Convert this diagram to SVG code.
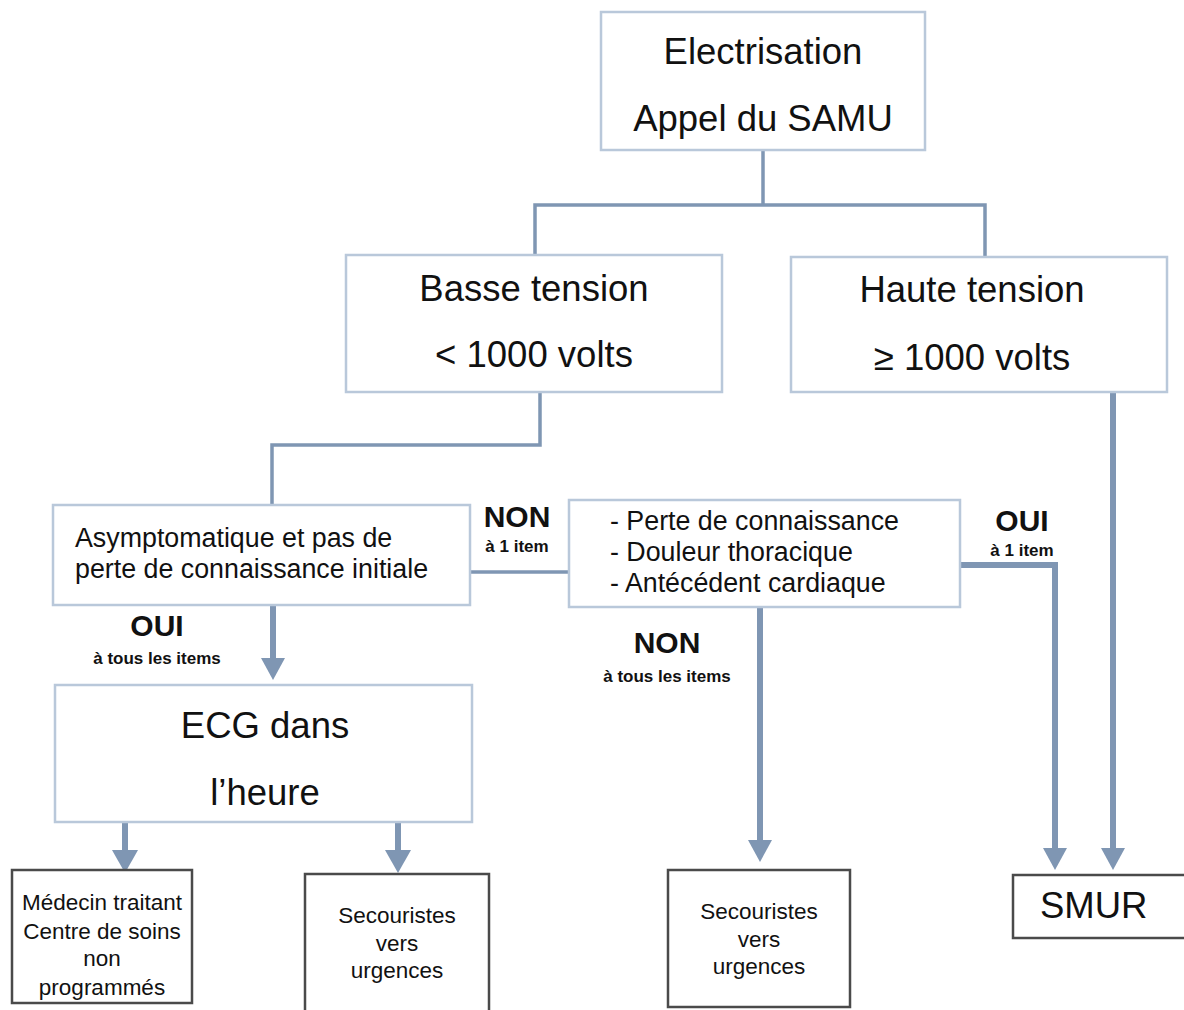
<svg xmlns="http://www.w3.org/2000/svg" width="1184" height="1010" viewBox="0 0 1184 1010">
<defs>
<style>
.lb{fill:#fff;stroke:#b9c8da;stroke-width:2.5}
.db{fill:#fff;stroke:#4a4a4a;stroke-width:2.5}
.ln{fill:none;stroke:#7f96b3;stroke-width:3.5}
.th{fill:none;stroke:#7f96b3;stroke-width:6}
.ah{fill:#7f96b3}
text{font-family:"Liberation Sans",Arial,sans-serif;fill:#111}
.big{font-size:36.5px}
.mid{font-size:26.8px}
.sm{font-size:22.5px}
.lab{font-size:30px;font-weight:bold}
.sub{font-size:17px;font-weight:bold}
.c{text-anchor:middle}
</style>
</defs>
<g id="connectors">
<polyline class="ln" points="763,150 763,205"/>
<polyline class="ln" points="535,255 535,205 985,205 985,257"/>
<polyline class="ln" points="540,392 540,445 272,445 272,505"/>
<line class="ln" x1="470" y1="572" x2="569" y2="572"/>
<polyline class="th" points="960,565 1055,565 1055,850"/>
<polygon class="ah" points="1043,848 1067,848 1055,870"/>
<line class="th" x1="1113" y1="392" x2="1113" y2="850"/>
<polygon class="ah" points="1101,848 1125,848 1113,870"/>
<line class="th" x1="760" y1="607" x2="760" y2="842"/>
<polygon class="ah" points="748,840 772,840 760,862"/>
<line class="th" x1="273" y1="605" x2="273" y2="660"/>
<polygon class="ah" points="261,658 285,658 273,680"/>
<line class="th" x1="125" y1="822" x2="125" y2="852"/>
<polygon class="ah" points="112,850 138,850 125,873"/>
<line class="th" x1="398" y1="822" x2="398" y2="852"/>
<polygon class="ah" points="385,850 411,850 398,873"/>
</g>
<g id="n-electrisation">
<rect class="lb" x="601" y="12" width="324" height="138"/>
<text class="big c" x="763" y="64">Electrisation</text>
<text class="big c" x="763" y="131">Appel du SAMU</text>
</g>
<g id="n-basse">
<rect class="lb" x="346" y="255" width="376" height="137"/>
<text class="big c" x="534" y="301">Basse tension</text>
<text class="big c" x="534" y="367">&lt; 1000 volts</text>
</g>
<g id="n-haute">
<rect class="lb" x="791" y="257" width="376" height="135"/>
<text class="big c" x="972" y="302">Haute tension</text>
<text class="big c" x="972" y="370">≥ 1000 volts</text>
</g>
<g id="n-asympto">
<rect class="lb" x="53" y="505" width="417" height="100"/>
<text class="mid" x="75" y="547">Asymptomatique et pas de</text>
<text class="mid" x="75" y="578">perte de connaissance initiale</text>
</g>
<g id="n-criteres">
<rect class="lb" x="569" y="500" width="391" height="107"/>
<text class="mid" x="610" y="530">- Perte de connaissance</text>
<text class="mid" x="610" y="561">- Douleur thoracique</text>
<text class="mid" x="610" y="592">- Antécédent cardiaque</text>
</g>
<g id="lbl-non1">
<text class="lab c" x="517" y="527">NON</text>
<text class="sub c" x="517" y="552">à 1 item</text>
</g>
<g id="lbl-oui1">
<text class="lab c" x="1022" y="531">OUI</text>
<text class="sub c" x="1022" y="556">à 1 item</text>
</g>
<g id="lbl-non-tous">
<text class="lab c" x="667" y="653">NON</text>
<text class="sub c" x="667" y="682">à tous les items</text>
</g>
<g id="lbl-oui-tous">
<text class="lab c" x="157" y="636">OUI</text>
<text class="sub c" x="157" y="664">à tous les items</text>
</g>
<g id="n-ecg">
<rect class="lb" x="55" y="685" width="417" height="137"/>
<text class="big c" x="265" y="738">ECG dans</text>
<text class="big c" x="265" y="805">l’heure</text>
</g>
<g id="n-medecin">
<rect class="db" x="12" y="870" width="180" height="133"/>
<text class="sm c" x="102" y="910">Médecin traitant</text>
<text class="sm c" x="102" y="939">Centre de soins</text>
<text class="sm c" x="102" y="966">non</text>
<text class="sm c" x="102" y="995">programmés</text>
</g>
<g id="n-secour1">
<rect class="db" x="305" y="874" width="184" height="140"/>
<text class="sm c" x="397" y="923">Secouristes</text>
<text class="sm c" x="397" y="951">vers</text>
<text class="sm c" x="397" y="978">urgences</text>
</g>
<g id="n-secour2">
<rect class="db" x="668" y="870" width="182" height="137"/>
<text class="sm c" x="759" y="919">Secouristes</text>
<text class="sm c" x="759" y="947">vers</text>
<text class="sm c" x="759" y="974">urgences</text>
</g>
<g id="n-smur">
<rect class="db" x="1013" y="875" width="180" height="63"/>
<text class="big" x="1040" y="918">SMUR</text>
</g>
</svg>
